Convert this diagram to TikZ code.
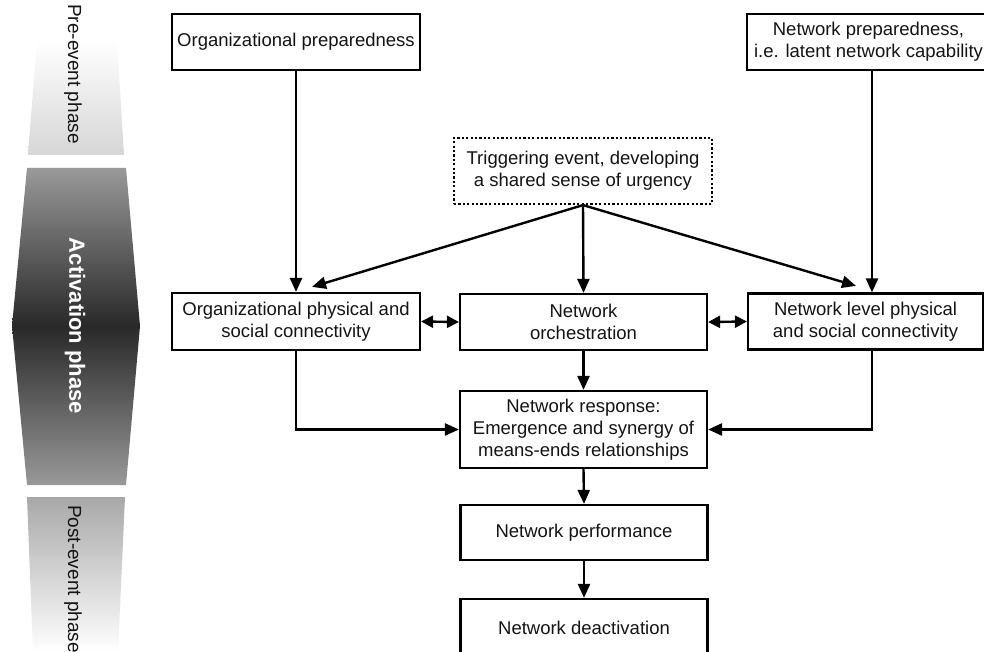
\documentclass[tikz,border=0pt]{standalone}
\usepackage{fontspec}
\setmainfont{Liberation Sans}
\usetikzlibrary{arrows.meta}
\tikzset{
  box/.style={draw=black, line width=2.2pt, align=center, inner sep=0pt, text=black!92,
    font=\fontsize{18.5}{22}\selectfont},
  dotbox/.style={box, line width=2.2pt, dash pattern=on 2.2pt off 2.2pt},
  arr/.style={line width=2.4pt, draw=black, -{Triangle[length=14pt,width=12pt]}},
  dbl/.style={line width=2.4pt, draw=black, {Triangle[length=12pt,width=12pt]}-{Triangle[length=12pt,width=12pt]}},
  phase/.style={rotate=-90, text=black!92, font=\fontsize{19}{22}\selectfont}
}
\begin{document}
\begin{tikzpicture}[x=1pt,y=-1pt]
\useasboundingbox (0,0) rectangle (984,652);
\clip (0,0) rectangle (984,652);
\fill[white] (0,0) rectangle (984,652);

% phase bars
\shade[top color=white, bottom color=black!16] (37,40) -- (117,40) -- (124,155) -- (28,155) -- cycle;
\shade[top color=black!40, bottom color=black!40, middle color=black!84]
  (27,168) -- (126,168) -- (140,326) -- (126,485) -- (27,485) -- (12,326) -- cycle;
\shade[top color=black!34, bottom color=white] (27,497) -- (125,497) -- (118,652) -- (33,652) -- cycle;
\node[phase] (pre) at (73,74) {Pre-event phase};
\node[phase, text=white, font=\bfseries\fontsize{22}{26}\selectfont] (act) at (75,326) {Activation phase};
\node[phase] (post) at (73,579) {Post-event phase};

% boxes
\node[box, minimum width=248pt, minimum height=56pt] (op) at (296,42) {Organizational preparedness};
\node[box, minimum width=243pt, minimum height=56pt] (np) at (868.5,42) {Network preparedness,\\i.e. latent network capability};
\node[dotbox, minimum width=258pt, minimum height=66pt] (trig) at (583,171) {Triggering event, developing\\a shared sense of urgency};
\node[box, minimum width=248pt, minimum height=57pt] (ophys) at (296,321.5) {Organizational physical and\\social connectivity};
\node[box, minimum width=247pt, minimum height=56pt] (orch) at (583.5,322) {Network\\orchestration};
\node[box, minimum width=235pt, minimum height=56pt] (nlev) at (865.5,321.5) {Network level physical\\and social connectivity};
\node[box, minimum width=247pt, minimum height=77pt] (resp) at (583.5,429.5) {Network response:\\Emergence and synergy of\\means-ends relationships};
\node[box, minimum width=247pt, minimum height=55pt] (perf) at (584,532.5) {Network performance};
\node[box, minimum width=247pt, minimum height=57pt] (deact) at (584,627.5) {Network deactivation};

\coordinate (vx) at (872,0);

% connectors
\draw[arr] (op.south) -- (ophys.north);
\draw[arr] (np.south -| vx) -- (nlev.north -| vx);
\draw[arr] (trig.south) -- ([xshift=16pt,yshift=5pt]ophys.north);
\draw[arr] (trig.south) -- (orch.north);
\draw[arr] (trig.south) -- ([xshift=-9.5pt,yshift=6.5pt]nlev.north);
\draw[dbl] (ophys.east) -- (orch.west);
\draw[dbl] (orch.east) -- (nlev.west);
\draw[arr] (orch.south) -- (resp.north);
\draw[arr] (ophys.south) |- (resp.west);
\draw[arr] (nlev.south -| vx) |- (resp.east);
\draw[arr] (resp.south) -- (perf.north);
\draw[arr] (perf.south) -- (deact.north);
\end{tikzpicture}
\end{document}
